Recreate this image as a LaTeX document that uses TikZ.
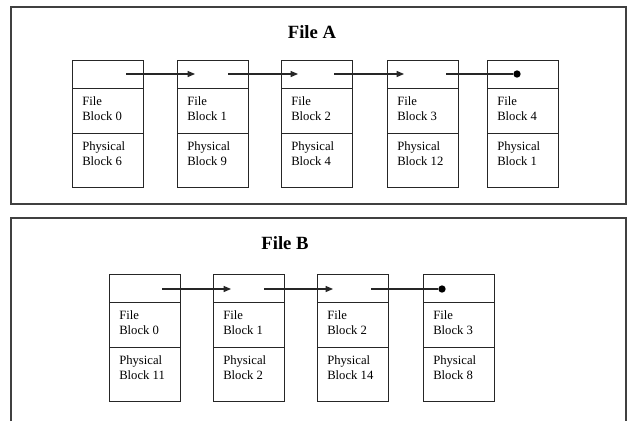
\documentclass[tikz,border=0pt]{standalone}
\usepackage{fontspec}
\setmainfont{Liberation Serif}
\usetikzlibrary{arrows.meta,calc}

\tikzset{
  frame/.style={draw=black!75, line width=1.1pt},
  cell/.style={draw=black!85, line width=0.8pt, rectangle, inner sep=0pt,
    minimum width=71*0.75pt, anchor=north west},
  ptrcell/.style={cell, minimum height=28*0.75pt},
  filecell/.style={cell, minimum height=45*0.75pt},
  physcell/.style={cell, minimum height=54*0.75pt},
  lbl/.style={inner sep=0pt, anchor=north west, align=left,
    font=\fontsize{9.5}{11.25}\selectfont},
  title/.style={inner sep=0pt, font=\fontsize{14}{16}\selectfont\bfseries},
  link/.style={draw=black!85, line width=0.8pt, -{Triangle[length=5.5pt,width=4.5pt]}},
  endlink/.style={draw=black!85, line width=0.8pt},
  nil/.style={circle, fill=black, inner sep=0pt, minimum size=5.5pt},
}

\begin{document}
\begin{tikzpicture}[x=0.75pt,y=-0.75pt]
  \useasboundingbox (0,0) rectangle (631,421);

  % ---------- File A ----------
  \draw[frame] (11,7) rectangle (626,204);
  \node[title] (titleA) at (312,32) {File A};

  \foreach \i/\x/\f/\p in {0/72/0/6, 1/177/1/9, 2/281/2/4, 3/387/3/12, 4/487/4/1} {
    \node[ptrcell]  (a\i p) at (\x,60) {};
    \node[filecell] (a\i f) at (\x,88) {};
    \node[physcell] (a\i b) at (\x,133) {};
    \node[lbl] (a\i ft) at ($(a\i f.north west)+(10,8)$) {File\\Block \f};
    \node[lbl] (a\i bt) at ($(a\i b.north west)+(10,8)$) {Physical\\Block \p};
  }

  % next-pointer start and target points inside the pointer cells
  \coordinate (a0s) at (126,74);
  \coordinate (a1e) at (195,74);
  \coordinate (a1s) at (228,74);
  \coordinate (a2e) at (298,74);
  \coordinate (a2s) at (334,74);
  \coordinate (a3e) at (404,74);
  \coordinate (a3s) at (446,74);
  \node[nil] (a4n) at (517,74) {};

  \draw[link] (a0s) -- (a1e);
  \draw[link] (a1s) -- (a2e);
  \draw[link] (a2s) -- (a3e);
  \draw[endlink] (a3s) -- (a4n);

  % ---------- File B ----------
  \draw[frame] (11,421) -- (11,218) -- (626,218) -- (626,421);
  \node[title] (titleB) at (285,243) {File B};

  \foreach \i/\x/\f/\p in {0/109/0/11, 1/213/1/2, 2/317/2/14, 3/423/3/8} {
    \node[ptrcell]  (b\i p) at (\x,274) {};
    \node[filecell] (b\i f) at (\x,302) {};
    \node[physcell] (b\i b) at (\x,347) {};
    \node[lbl] (b\i ft) at ($(b\i f.north west)+(10,8)$) {File\\Block \f};
    \node[lbl] (b\i bt) at ($(b\i b.north west)+(10,8)$) {Physical\\Block \p};
  }

  \coordinate (b0s) at (162,289);
  \coordinate (b1e) at (231,289);
  \coordinate (b1s) at (264,289);
  \coordinate (b2e) at (333,289);
  \coordinate (b2s) at (371,289);
  \node[nil] (b3n) at (442,289) {};

  \draw[link] (b0s) -- (b1e);
  \draw[link] (b1s) -- (b2e);
  \draw[endlink] (b2s) -- (b3n);
\end{tikzpicture}
\end{document}
